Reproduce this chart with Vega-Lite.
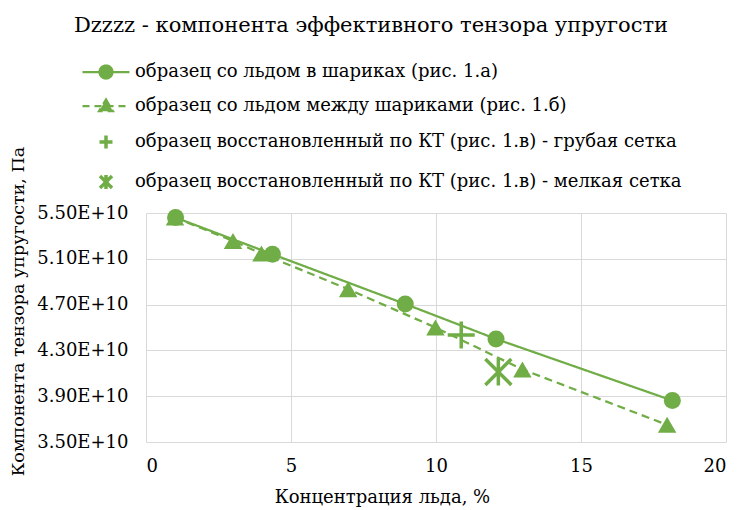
{
  "$schema": "https://vega.github.io/schema/vega-lite/v6.json",
  "width": 580,
  "height": 229,
  "autosize": {"type": "none"},
  "padding": {"left": 146, "top": 213, "right": 15, "bottom": 68},
  "background": "white",
  "title": {
    "text": "Dzzzz - компонента эффективного тензора упругости",
    "font": "DejaVu Serif",
    "fontSize": 21,
    "fontWeight": "normal",
    "color": "#000000",
    "anchor": "middle",
    "frame": "group",
    "dx": -65,
    "offset": 27
  },
  "config": {
    "view": {"stroke": null},
    "font": "DejaVu Serif"
  },
  "data": {
    "values": [
      {"series": "образец со льдом в шариках (рис. 1.а)", "x": 1.02, "y": 54600000000},
      {"series": "образец со льдом в шариках (рис. 1.а)", "x": 4.36, "y": 51400000000},
      {"series": "образец со льдом в шариках (рис. 1.а)", "x": 8.94, "y": 47050000000},
      {"series": "образец со льдом в шариках (рис. 1.а)", "x": 12.07, "y": 44000000000},
      {"series": "образец со льдом в шариках (рис. 1.а)", "x": 18.15, "y": 38620000000},
      {"series": "образец со льдом между шариками (рис. 1.б)", "x": 1.0, "y": 54600000000},
      {"series": "образец со льдом между шариками (рис. 1.б)", "x": 3.0, "y": 52560000000},
      {"series": "образец со льдом между шариками (рис. 1.б)", "x": 3.98, "y": 51460000000},
      {"series": "образец со льдом между шариками (рис. 1.б)", "x": 6.97, "y": 48350000000},
      {"series": "образец со льдом между шариками (рис. 1.б)", "x": 9.98, "y": 45000000000},
      {"series": "образец со льдом между шариками (рис. 1.б)", "x": 12.98, "y": 41340000000},
      {"series": "образец со льдом между шариками (рис. 1.б)", "x": 17.97, "y": 36500000000},
      {"series": "образец восстановленный по КТ (рис. 1.в) - грубая сетка", "x": 10.87, "y": 44350000000},
      {"series": "образец восстановленный по КТ (рис. 1.в) - мелкая сетка", "x": 12.15, "y": 41120000000}
    ]
  },
  "encoding": {
    "x": {
      "field": "x",
      "type": "quantitative",
      "scale": {"domain": [0, 20], "nice": false, "zero": false},
      "axis": {
        "values": [0, 5, 10, 15, 20],
        "grid": true,
        "gridColor": "#d9d9d9",
        "gridWidth": 1,
        "domain": false,
        "ticks": false,
        "labelFont": "DejaVu Serif",
        "labelFontSize": 18,
        "labelColor": "#000000",
        "labelPadding": 15,
        "title": "Концентрация льда, %",
        "titleFont": "DejaVu Serif",
        "titleFontSize": 18,
        "titleFontWeight": "normal",
        "titleColor": "#000000",
        "titleX": 236,
        "titleY": 55,
        "titleBaseline": "middle"
      }
    },
    "y": {
      "field": "y",
      "type": "quantitative",
      "scale": {"domain": [35000000000, 55000000000], "nice": false, "zero": false},
      "axis": {
        "values": [35000000000, 39000000000, 43000000000, 47000000000, 51000000000, 55000000000],
        "labelExpr": "format(datum.value / 1e10, '.2f') + 'E+10'",
        "grid": true,
        "gridColor": "#d9d9d9",
        "gridWidth": 1,
        "domain": false,
        "ticks": false,
        "labelFont": "DejaVu Serif",
        "labelFontSize": 18,
        "labelColor": "#000000",
        "labelPadding": 18,
        "title": "Компонента тензора упругости, Па",
        "titleFont": "DejaVu Serif",
        "titleFontSize": 17.5,
        "titleFontWeight": "normal",
        "titleColor": "#000000",
        "titleX": -128,
        "titleY": 98,
        "titleBaseline": "middle"
      }
    }
  },
  "layer": [
    {
      "transform": [{"filter": "datum.series === 'образец со льдом в шариках (рис. 1.а)' || datum.series === 'образец со льдом между шариками (рис. 1.б)'"}],
      "mark": {"type": "line", "strokeWidth": 2.25},
      "encoding": {
        "color": {
          "field": "series",
          "type": "nominal",
          "scale": {
            "domain": [
              "образец со льдом в шариках (рис. 1.а)",
              "образец со льдом между шариками (рис. 1.б)",
              "образец восстановленный по КТ (рис. 1.в) - грубая сетка",
              "образец восстановленный по КТ (рис. 1.в) - мелкая сетка"
            ],
            "range": ["#70ad47", "#70ad47", "#70ad47", "#70ad47"]
          },
          "legend": {
            "orient": "none",
            "legendX": -49,
            "legendY": -150,
            "title": null,
            "padding": 0,
            "symbolOffset": 0,
            "symbolSize": 400,
            "labelOffset": 20,
            "rowPadding": 12,
            "labelFont": "DejaVu Serif",
            "labelFontSize": 18,
            "labelColor": "#000000",
            "labelLimit": 700,
            "encode": {
              "symbols": {
                "update": {
                  "shape": {"signal": "datum.index === 0 ? 'M-2.35,0H2.35M0.65,0A0.65,0.65,0,1,1,-0.65,0A0.65,0.65,0,1,1,0.65,0Z' : datum.index === 1 ? 'M-2.35,0H2.35M0,-0.65L0.7,0.52L-0.7,0.52Z' : datum.index === 2 ? 'M-0.65,0H0.65M0,-0.65V0.65' : 'M-0.6,-0.6L0.6,0.6M-0.6,0.6L0.6,-0.6M0,-0.7V0.7'"},
                  "strokeDash": {"signal": "datum.index === 1 ? [7, 5] : [1, 0]"},
                  "fill": {"value": "#70ad47"},
                  "stroke": {"value": "#70ad47"},
                  "strokeWidth": {"signal": "datum.index >= 2 ? 3.5 : 2.25"},
                  "size": {"value": 400},
                  "opacity": {"value": 1}
                }
              }
            }
          }
        },
        "strokeDash": {
          "field": "series",
          "type": "nominal",
          "scale": {
            "domain": [
              "образец со льдом в шариках (рис. 1.а)",
              "образец со льдом между шариками (рис. 1.б)"
            ],
            "range": [[1, 0], [8, 5]]
          },
          "legend": null
        }
      }
    },
    {
      "transform": [{"filter": "datum.series === 'образец со льдом в шариках (рис. 1.а)'"}],
      "mark": {"type": "point", "shape": "circle", "filled": true, "size": 290, "color": "#70ad47", "opacity": 1}
    },
    {
      "transform": [{"filter": "datum.series === 'образец со льдом между шариками (рис. 1.б)'"}],
      "mark": {"type": "point", "shape": "triangle-up", "filled": true, "size": 340, "color": "#70ad47", "opacity": 1}
    },
    {
      "transform": [{"filter": "datum.series === 'образец восстановленный по КТ (рис. 1.в) - грубая сетка'"}],
      "mark": {"type": "point", "shape": "M-1,0H1M0,-1V1", "filled": false, "size": 729, "strokeWidth": 3.5, "color": "#70ad47", "opacity": 1}
    },
    {
      "transform": [{"filter": "datum.series === 'образец восстановленный по КТ (рис. 1.в) - мелкая сетка'"}],
      "mark": {"type": "point", "shape": "M-1,-1L1,1M-1,1L1,-1M0,-1.05V1.05", "filled": false, "size": 676, "strokeWidth": 3.5, "color": "#70ad47", "opacity": 1}
    }
  ]
}
